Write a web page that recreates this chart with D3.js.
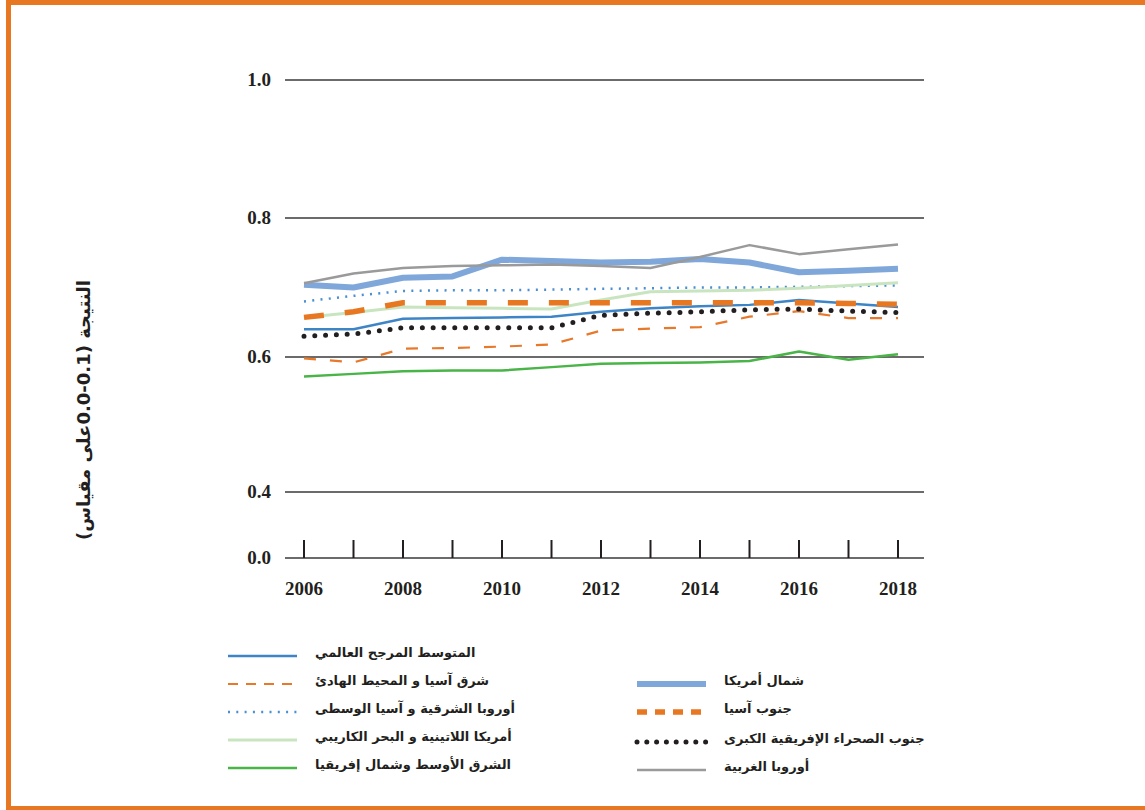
<!DOCTYPE html>
<html>
<head>
<meta charset="utf-8">
<script src="https://cdn.jsdelivr.net/npm/d3@7"></script>
<style>
  body { margin: 0; background: #fff; }
  .tick-label { font-family: "Liberation Serif", serif; font-weight: bold; font-size: 19px; fill: #231f20; }
  .ar { font-family: "DejaVu Sans", sans-serif; font-weight: bold; fill: #231f20; }
</style>
</head>
<body>
<div id="app"></div>
<script>
const years = [2006, 2007, 2008, 2009, 2010, 2011, 2012, 2013, 2014, 2015, 2016, 2017, 2018];
const yTicks = [0.0, 0.4, 0.6, 0.8, 1.0];
const xTickLabels = [2006, 2008, 2010, 2012, 2014, 2016, 2018];

const worldAvg      = [0.640, 0.640, 0.655, 0.656, 0.657, 0.658, 0.665, 0.670, 0.673, 0.675, 0.682, 0.677, 0.672];
const eastAsia      = [0.598, 0.592, 0.612, 0.613, 0.615, 0.618, 0.638, 0.641, 0.643, 0.658, 0.666, 0.656, 0.656];
const easternEurope = [0.680, 0.688, 0.695, 0.696, 0.696, 0.697, 0.698, 0.699, 0.700, 0.700, 0.701, 0.702, 0.703];
const latinAmerica  = [0.657, 0.664, 0.672, 0.671, 0.670, 0.669, 0.682, 0.694, 0.695, 0.696, 0.699, 0.703, 0.707];
const mena          = [0.571, 0.575, 0.579, 0.580, 0.580, 0.585, 0.590, 0.591, 0.592, 0.594, 0.608, 0.596, 0.604];
const northAmerica  = [0.704, 0.700, 0.714, 0.716, 0.740, 0.738, 0.736, 0.737, 0.741, 0.736, 0.722, 0.724, 0.727];
const southAsia     = [0.657, 0.665, 0.678, 0.678, 0.678, 0.678, 0.678, 0.678, 0.678, 0.678, 0.678, 0.677, 0.676];
const subSaharan    = [0.630, 0.633, 0.642, 0.642, 0.642, 0.642, 0.660, 0.663, 0.665, 0.668, 0.669, 0.666, 0.664];
const westernEurope = [0.706, 0.720, 0.728, 0.731, 0.732, 0.733, 0.731, 0.728, 0.744, 0.761, 0.748, 0.755, 0.762];

const seriesNames = [
  'المتوسط المرجح العالمي',
  'شرق آسيا و المحيط الهادئ',
  'أوروبا الشرقية و آسيا الوسطى',
  'أمريكا اللاتينية و البحر الكاريبي',
  'الشرق الأوسط وشمال إفريقيا',
  'شمال أمريكا',
  'جنوب آسيا',
  'جنوب الصحراء الإفريقية الكبرى',
  'أوروبا الغربية'
];
const seriesValues = [worldAvg, eastAsia, easternEurope, latinAmerica, mena, northAmerica, southAsia, subSaharan, westernEurope];

const yTitle = 'النتيجة (0.1-0.0على مقياس)';

// line looks, same order as the series
const styles = [
  { color: '#3d85c6', width: 2.5, dash: null, cap: 'butt' },
  { color: '#e8782a', width: 2.2, dash: '12 14', cap: 'butt' },
  { color: '#4a8fd2', width: 2.5, dash: '2 6.3', cap: 'butt' },
  { color: '#c9e5c0', width: 3, dash: null, cap: 'butt' },
  { color: '#49b447', width: 2.5, dash: null, cap: 'butt' },
  { color: '#7fa7da', width: 6, dash: null, cap: 'butt' },
  { color: '#e87722', width: 5.5, dash: '20 21', cap: 'butt' },
  { color: '#231f20', width: 5, dash: '0 10.8', cap: 'round' },
  { color: '#9a9a9a', width: 2.5, dash: null, cap: 'butt' }
];
// shorter patterns for the legend samples
const legendDash = [null, '10 8', '2 6.3', null, null, null, '10 8', '0 9.8', null];

const W = 1145, H = 810;

function main() {
  const svg = d3.select('#app').append('svg')
      .attr('width', W)
      .attr('height', H);

  // orange frame (no right edge)
  svg.append('rect').attr('x', 6).attr('y', 0).attr('width', W - 6).attr('height', 5).attr('fill', '#e87722');
  svg.append('rect').attr('x', 6).attr('y', 0).attr('width', 5).attr('height', H).attr('fill', '#e87722');
  svg.append('rect').attr('x', 6).attr('y', H - 4).attr('width', W - 6).attr('height', 4).attr('fill', '#e87722');

  const x = d3.scaleLinear()
      .domain([2006, 2018])
      .range([304, 898]);

  // broken axis: 0.0 sits just below 0.4
  const y = d3.scaleLinear()
      .domain([0, 0.4, 0.6, 0.8, 1.0])
      .range([558, 492, 357, 218, 80]);

  const gridLeft = 285, gridRight = 924;

  const grid = svg.append('g');
  grid.selectAll('line')
      .data(yTicks)
      .enter()
      .append('line')
      .attr('x1', gridLeft)
      .attr('x2', gridRight)
      .attr('y1', d => y(d))
      .attr('y2', d => y(d))
      .attr('stroke', '#3a3a3a')
      .attr('stroke-width', 1.5);

  grid.selectAll('text')
      .data(yTicks)
      .enter()
      .append('text')
      .attr('class', 'tick-label')
      .attr('x', 271)
      .attr('y', d => y(d))
      .attr('dy', '0.33em')
      .attr('text-anchor', 'end')
      .text(d => d.toFixed(1));

  // year ticks on the 0.0 line
  const xAxis = svg.append('g');
  xAxis.selectAll('line')
      .data(years)
      .enter()
      .append('line')
      .attr('x1', d => x(d))
      .attr('x2', d => x(d))
      .attr('y1', y(0) - 18)
      .attr('y2', y(0))
      .attr('stroke', '#231f20')
      .attr('stroke-width', 2);

  xAxis.selectAll('text')
      .data(xTickLabels)
      .enter()
      .append('text')
      .attr('class', 'tick-label')
      .attr('x', d => x(d))
      .attr('y', y(0) + 37)
      .attr('text-anchor', 'middle')
      .text(d => d);

  svg.append('text')
      .attr('class', 'ar')
      .attr('transform', 'translate(84,410) rotate(-90)')
      .attr('text-anchor', 'middle')
      .attr('dy', '0.35em')
      .attr('direction', 'rtl')
      .style('font-size', '18px')
      .text(yTitle);

  const line = d3.line()
      .x((d, i) => x(years[i]))
      .y(d => y(d));

  svg.append('g')
      .selectAll('path')
      .data(seriesValues)
      .enter()
      .append('path')
      .attr('d', d => line(d))
      .attr('fill', 'none')
      .attr('stroke', (d, i) => styles[i].color)
      .attr('stroke-width', (d, i) => styles[i].width)
      .attr('stroke-dasharray', (d, i) => styles[i].dash)
      .attr('stroke-linecap', (d, i) => styles[i].cap)
      .attr('stroke-linejoin', 'round');

  // legend: five rows left, four rows right
  const legendPos = [
    { lx: 228, ly: 656 }, { lx: 228, ly: 684 }, { lx: 228, ly: 712 }, { lx: 228, ly: 740 }, { lx: 228, ly: 768 },
    { lx: 637, ly: 684 }, { lx: 637, ly: 712 }, { lx: 637, ly: 742 }, { lx: 637, ly: 770 }
  ];

  svg.append('g')
      .selectAll('g')
      .data(seriesNames)
      .enter()
      .append('g')
      .attr('transform', (d, i) => `translate(${legendPos[i].lx},${legendPos[i].ly})`)
      .call(g => {
        g.append('line')
          .attr('x1', 0)
          .attr('x2', 69)
          .attr('stroke', (d, i) => styles[i].color)
          .attr('stroke-width', (d, i) => styles[i].width)
          .attr('stroke-dasharray', (d, i) => legendDash[i])
          .attr('stroke-linecap', (d, i) => styles[i].cap);

        g.append('text')
          .attr('class', 'ar')
          .attr('x', 87)
          .attr('y', -4)
          .attr('dy', '0.35em')
          .style('font-size', '13px')
          .text(d => d);
      });
}

main();
</script>
</body>
</html>
